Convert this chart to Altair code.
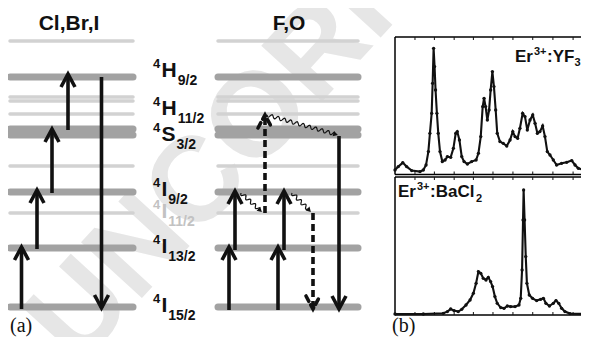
import altair as alt
import numpy as np
import pandas as pd

# ---------------- data ----------------
# Energy-level diagram (diagram units: 0 = top of figure, grows downward)
thick_levels = [77, 129, 135, 192, 248, 307]
thin_levels = [41, 97, 101, 114, 166, 213]
panel_names = ["Cl,Br,I", "F,O"]
panel_x0 = [10, 218]
panel_x1 = [133, 358]
panel_title_x = [69, 289]

# level labels  (term symbol pieces)
lab_sup = ["4", "4", "4", "4", "4", "4", "4"]
lab_main = ["H", "H", "S", "I", "I", "I", "I"]
lab_sub = ["9/2", "11/2", "3/2", "9/2", "11/2", "13/2", "15/2"]
lab_base = [77, 115, 141, 196, 218, 253, 312]
lab_gray = [False, False, False, False, True, False, False]

# solid transitions: x, from-level, to-level
arrow_x = [21.5, 37, 52, 68, 101.5, 229, 235, 278, 284, 339]
arrow_from = [309, 249, 193, 130, 77, 310, 250, 310, 250, 136]
arrow_to = [247, 190, 129, 74, 308, 247, 191, 247, 191, 309]
# dashed transitions
dash_x = [265, 313]
dash_from = [213, 213]
dash_to = [115, 309]

# non-radiative (wavy) relaxations: start -> end
wavy_start = [(241, 193), (292, 193), (267, 115)]
wavy_end = [(262, 212), (311, 212), (338, 135)]

# emission spectra (relative wavelength 0-100, intensity)
yf3_pos = [0, 1.7, 4.0, 6.0, 8.6, 12.9, 14.6, 16.0, 17.2, 18.0, 18.9, 19.4, 19.9, 20.4,
           20.9, 21.6, 22.3, 23.2, 24.4, 25.8, 27.0, 28.7, 30.1, 31.3, 32.1, 33.2, 34.4,
           35.6, 37.3, 39.5, 41.8, 43.0, 44.2, 45.2, 45.9, 46.7, 47.6, 48.5, 49.3, 50.2,
           51.0, 51.9, 52.7, 54.1, 55.8, 57.6, 59.3, 60.7, 61.9, 63.2, 64.4, 65.8, 67.0,
           68.2, 69.6, 71.0, 72.2, 73.4, 74.7, 76.1, 77.3, 78.5, 79.9, 81.6, 83.3, 85.9,
           88.5, 91.1, 92.8, 94.5, 97.1, 100]
yf3_int = [2.3, 5.7, 9.7, 5.7, 1.7, 0.7, 2.3, 7.3, 20.7, 39, 59, 89, 124, 105.7,
           82.3, 59, 39, 20.7, 10.7, 12.3, 15.7, 15, 24, 39, 40.7, 32.3, 15.7,
           10.7, 8.3, 10.7, 12.3, 19, 35.7, 65.7, 74, 65.7, 52.3, 62.3, 82.3, 100.7,
           85.7, 62.3, 39, 30.7, 29, 26.3, 32.3, 40.7, 35.7, 34, 44, 59, 55.7,
           42.3, 52.3, 57.3, 49, 39, 40.7, 46.3, 35.7, 20.7, 17.3, 12.3, 7.3, 9,
           10, 11.7, 7.3, 4, 2.3, 0.7]
bacl2_pos = [0, 14.6, 24.9, 27.0, 28.7, 30.4, 32.6, 34.4, 36.6, 38.7, 40.4, 41.8, 43.0,
             44.2, 45.5, 46.9, 48.1, 49.3, 50.3, 51.5, 52.7, 54.5, 56.2, 57.9, 59.6, 61.9,
             63.9, 64.8, 65.5, 66.0, 66.3, 66.8, 67.4, 68.0, 69.2, 70.9, 73.0, 75.1, 76.5,
             77.8, 79.6, 81.6, 83.0, 84.4, 85.9, 87.6, 90.2, 100]
bacl2_int = [0.3, 0.3, 1, 2.7, 5.3, 3.7, 2.7, 5, 9.3, 14.3, 21, 31, 42.7,
             41, 36, 34.3, 37, 32.7, 27.7, 17.7, 11, 6.7, 6, 8.3, 7.7, 7.7,
             9.3, 16, 44.3, 94.3, 124.3, 94.3, 57.7, 31, 19.3, 16, 13.7, 15, 16,
             11, 8.3, 11, 13.7, 11, 6, 2.7, 0.7, 0.3]
tick_pos = [10.3, 20.3, 30.5, 40.4, 50.5, 60.8, 71.0, 81.4, 91.8]

# ---------------- scales ----------------
PX = alt.Scale(domain=[0, 589], range=[-8, 581], zero=False, nice=False)
PY = alt.Scale(domain=[0, 337], range=[-8, 329], zero=False, nice=False)


def X(f):
    return alt.X(f, type="quantitative", scale=PX, axis=None)


def Y(f):
    return alt.Y(f, type="quantitative", scale=PY, axis=None)


FONT = "Liberation Sans"
INK = "#111111"

# ---------------- diagram tables ----------------
rows = []
for x0, x1 in zip(panel_x0, panel_x1):
    for y in thick_levels:
        rows.append(dict(x0=x0, x1=x1, y=y, kind="thick"))
    for y in thin_levels:
        rows.append(dict(x0=x0, x1=x1, y=y, kind="thin"))
lev = pd.DataFrame(rows)

thin_layer = alt.Chart(lev[lev.kind == "thin"]).mark_rule(
    strokeWidth=3.5, strokeCap="round", color="#d2d2d2"
).encode(x=X("x0"), x2="x1", y=Y("y"))
thick_layer = alt.Chart(lev[lev.kind == "thick"]).mark_rule(
    strokeWidth=7, strokeCap="round", color="#a2a2a2"
).encode(x=X("x0"), x2="x1", y=Y("y"))


def arrow_tables(xs, y0s, y1s, hw=7, hh=13):
    shaft = pd.DataFrame(dict(x=xs, y0=y0s, y1=y1s))
    pts = []
    for i, (x, a, b) in enumerate(zip(xs, y0s, y1s)):
        d = 1 if b < a else -1  # up arrow -> legs below tip
        pts += [dict(id=i, k=0, x=x - hw, y=b + d * hh),
                dict(id=i, k=1, x=x, y=b),
                dict(id=i, k=2, x=x + hw, y=b + d * hh)]
    return shaft, pd.DataFrame(pts)


sh, hd = arrow_tables(arrow_x, arrow_from, arrow_to)
shaft_layer = alt.Chart(sh).mark_rule(strokeWidth=3.6, color=INK).encode(
    x=X("x"), y=Y("y0"), y2="y1")
head_layer = alt.Chart(hd).mark_line(strokeWidth=3.6, color=INK,
                                     strokeJoin="miter", strokeCap="butt").encode(
    x=X("x"), y=Y("y"), detail="id:N", order="k:Q")

dsh, dhd = arrow_tables(dash_x, dash_from, dash_to)
dshaft_layer = alt.Chart(dsh).mark_rule(strokeWidth=3.6, color=INK,
                                        strokeDash=[7, 4]).encode(
    x=X("x"), y=Y("y0"), y2="y1")
dhead_layer = alt.Chart(dhd).mark_line(strokeWidth=3.6, color=INK,
                                       strokeDash=[6, 4], strokeCap="round").encode(
    x=X("x"), y=Y("y"), detail="id:N", order="k:Q")

# wavy relaxation arrows (the wave is only the glyph of the arrow)
wrows, wheads = [], []
for i, ((xa, ya), (xb, yb)) in enumerate(zip(wavy_start, wavy_end)):
    L = np.hypot(xb - xa, yb - ya)
    ux, uy = (xb - xa) / L, (yb - ya) / L
    nx, ny = -uy, ux
    t = np.linspace(0, L - 4, int(L * 3))
    off = 1.7 * np.sin(2 * np.pi * t / 6.5)
    for k, (tt, oo) in enumerate(zip(t, off)):
        wrows.append(dict(id=i, k=k, x=xa + ux * tt + nx * oo, y=ya + uy * tt + ny * oo))
    ang = (np.degrees(np.arctan2(ux, -uy)) + 360) % 360
    wheads.append(dict(x=xb - ux * 2.5, y=yb - uy * 2.5, a=ang))
wave_layer = alt.Chart(pd.DataFrame(wrows)).mark_line(strokeWidth=1.2, color=INK).encode(
    x=X("x"), y=Y("y"), detail="id:N", order="k:Q")
whead_layer = alt.Chart(pd.DataFrame(wheads)).mark_point(
    shape="triangle-up", filled=True, size=30, color=INK, opacity=1).encode(
    x=X("x"), y=Y("y"), angle=alt.Angle("a:Q", scale=None))

# labels
main_rows, sup_rows, sub_rows = [], [], []
main_w = {"H": 15.2, "S": 14.0, "I": 5.8}
for s, m, b, yb, g in zip(lab_sup, lab_main, lab_sub, lab_base, lab_gray):
    c = "#c2c2c2" if g else INK
    sup_rows.append(dict(t=s, x=153, y=yb - 9, c=c))
    main_rows.append(dict(t=m, x=161.5, y=yb, c=c))
    sub_rows.append(dict(t=b, x=161.5 + main_w[m] + 1, y=yb + 8, c=c))


def text_layer(df, size, weight="bold", font=FONT, align="left"):
    return alt.Chart(pd.DataFrame(df)).mark_text(
        align=align, baseline="alphabetic", font=font, fontSize=size, fontWeight=weight
    ).encode(x=X("x"), y=Y("y"), text="t:N", color=alt.Color("c:N", scale=None))


sup_layer = text_layer(sup_rows, 13)
main_layer = text_layer(main_rows, 21)
sub_layer = text_layer(sub_rows, 14)
title_layer = text_layer([dict(t=n, x=x, y=30, c=INK)
                          for n, x in zip(panel_names, panel_title_x)], 21, align="center")
panel_tag = text_layer([dict(t="(a)", x=10, y=332, c=INK),
                        dict(t="(b)", x=392, y=332, c=INK)], 20,
                       weight="normal", font="Liberation Serif")

# sample names in spectra panels
er_main = text_layer([dict(t="Er", x=515, y=62, c=INK),
                      dict(t=":YF", x=547, y=62, c=INK),
                      dict(t="Er", x=398, y=197, c=INK),
                      dict(t=":BaCl", x=430, y=197, c=INK)], 17)
er_small = text_layer([dict(t="3+", x=534, y=55, c=INK),
                       dict(t="3", x=574.5, y=66, c=INK),
                       dict(t="3+", x=417, y=190, c=INK),
                       dict(t="2", x=476, y=202, c=INK)], 11)

# watermark
wm = alt.Chart(pd.DataFrame(dict(t=["UNCORRECTED PROOF"], x=[78], y=[368]))).mark_text(
    angle=312.5, align="left", baseline="alphabetic", font=FONT, fontWeight="bold",
    fontSize=120, color="#e6e6e6").encode(x=X("x"), y=Y("y"), text="t:N")

# spectra frames: horizontal edges (run past the picture's right edge) and left edges
frame_h = pd.DataFrame(dict(x0=[395] * 4, x1=[640] * 4, y=[37, 174.5, 177, 315]))
frame_v = pd.DataFrame(dict(x=[395, 395], y0=[37, 177], y1=[174.5, 315]))
frame_h_layer = alt.Chart(frame_h).mark_rule(color="black", strokeWidth=1.5).encode(
    x=X("x0"), x2="x1", y=Y("y"))
frame_v_layer = alt.Chart(frame_v).mark_rule(color="black", strokeWidth=1.5).encode(
    x=X("x"), y=Y("y0"), y2="y1")

diagram = alt.layer(wm, thin_layer, thick_layer, wave_layer, whead_layer,
                    dshaft_layer, dhead_layer, shaft_layer, head_layer,
                    sup_layer, main_layer, sub_layer, title_layer, panel_tag,
                    frame_h_layer, frame_v_layer, er_main, er_small)

SX = alt.Scale(domain=[0, 100], range=[387, 581], zero=False, nice=False)


def spectrum(pos, inten, y_rng, y_max, tick_y):
    d = pd.DataFrame(dict(p=pos, i=inten))
    sy = alt.Scale(domain=[0, y_max], range=y_rng, zero=False, nice=False)
    base = alt.Chart(d).encode(x=alt.X("p:Q", scale=SX, axis=None),
                               y=alt.Y("i:Q", scale=sy, axis=None))
    line = base.mark_line(color=INK, strokeWidth=2.1)
    pts = base.mark_point(filled=True, size=11, color=INK, opacity=1)
    layers = [line, pts]
    tdf = pd.DataFrame(dict(p=tick_pos))
    for ya, yb in tick_y:
        layers.append(alt.Chart(tdf).mark_rule(color=INK, strokeWidth=1).encode(
            x=alt.X("p:Q", scale=SX, axis=None), y=alt.value(ya), y2=alt.value(yb)))
    return alt.layer(*layers)


top = spectrum(yf3_pos, yf3_int, [164.3, 29], 135.3, [(29, 32), (163.5, 166.5)])
bottom = spectrum(bacl2_pos, bacl2_int, [306.3, 169], 137.3, [(169, 172), (304, 307)])

chart = alt.layer(diagram, top, bottom).resolve_scale(
    x="independent", y="independent"
).properties(
    width=573, height=329, padding=0,
    autosize=alt.AutoSizeParams(type="none")
).configure_view(stroke=None)

chart.save("out.html", embed_options={"renderer": "svg", "actions": False})
